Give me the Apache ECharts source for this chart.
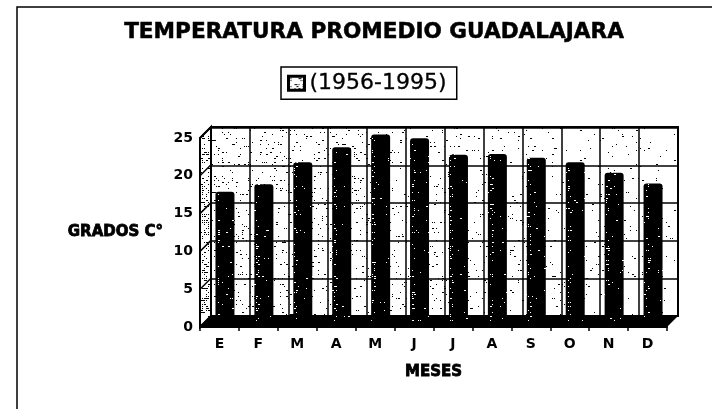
<!DOCTYPE html>
<html>
<head>
<meta charset="utf-8">
<style>
  html, body { margin: 0; padding: 0; background: #fff; }
  #chart { width: 712px; height: 409px; }
</style>
<script src="https://cdn.jsdelivr.net/npm/echarts@6/dist/echarts.min.js"></script>
</head>
<body>
<div id="chart"></div>
<script>
var meses = ["E", "F", "M", "A", "M", "J", "J", "A", "S", "O", "N", "D"];
var temperatura = [17.2, 18.2, 21.1, 23.1, 24.8, 24.3, 22.1, 22.2, 21.7, 21.1, 19.7, 18.3];
var yTicks = [0, 5, 10, 15, 20, 25];
var titulo = "TEMPERATURA PROMEDIO GUADALAJARA";
var serieNombre = "(1956-1995)";

var fontFamily = '"DejaVu Sans", sans-serif';
var depthX = 11;
var depthY = 11;

// scanned print grain, fixed seed so the picture is always the same
var seed = 12345;
function next() {
  seed = (seed * 1103 + 12345) % 65536;
  return seed / 65536;
}
function grain(bg, fg, density) {
  var c = document.createElement("canvas");
  c.width = 712;
  c.height = 409;
  var ctx = c.getContext("2d");
  ctx.fillStyle = bg;
  ctx.fillRect(0, 0, 712, 409);
  ctx.fillStyle = fg;
  for (var y = 0; y < 409; y += 2) {
    for (var x = 0; x < 712; x += 2) {
      if (next() < density(x, y)) {
        ctx.fillRect(x, y, next() < 0.3 ? 2 : 1, 1);
      }
    }
  }
  return { image: c, repeat: "no-repeat" };
}
var wallTexture = grain("#fff", "#000", function (x) {
  return 0.11 - 0.085 * (x - 211) / 467;
});
var sideTexture = grain("#fff", "#000", function () {
  return 0.42;
});
var barTexture = grain("#000", "#fff", function (x) {
  var p = ((x - 215) % 38.92 + 38.92) % 38.92;
  return p > 1 && p < 5 ? 0.2 : 0.02;
});
var legendTexture = grain("#fff", "#000", function () {
  return 0.4;
});

var chart = echarts.init(document.getElementById("chart"));

var option = {
  animation: false,
  backgroundColor: "#fff",
  textStyle: { fontFamily: fontFamily, color: "#000" },
  title: {
    text: titulo,
    left: 369,
    top: 16,
    textAlign: "center",
    textStyle: { fontFamily: fontFamily, fontSize: 21.6, fontWeight: "bold", color: "#000", textBorderColor: "#000", textBorderWidth: 0.5 }
  },
  legend: {
    left: 281,
    top: 67,
    padding: [5, 10, 5, 6],
    itemWidth: 16,
    itemHeight: 14,
    borderColor: "#000",
    borderWidth: 1.5,
    borderRadius: 0,
    textStyle: { fontFamily: fontFamily, fontSize: 22, color: "#000", textBorderColor: "#000", textBorderWidth: 0.3 },
    data: [
      {
        name: serieNombre,
        icon: "rect",
        itemStyle: { color: legendTexture, borderColor: "#000", borderWidth: 3 }
      }
    ]
  },
  graphic: [
    {
      type: "polyline",
      silent: true,
      shape: { points: [[712, 7], [17, 7], [17, 409]] },
      style: { stroke: "#000", lineWidth: 1.5, fill: null }
    }
  ],
  grid: [
    { left: 211, top: 128, width: 467, height: 188 },
    { left: 205.5, top: 133, width: 467, height: 188 },
    { left: 200, top: 138, width: 467, height: 189 }
  ],
  xAxis: [
    {
      gridIndex: 0, type: "category", data: meses, z: 1,
      axisLine: { show: false }, axisTick: { show: false }, axisLabel: { show: false },
      splitLine: { show: true, lineStyle: { color: "#000", width: 1.5 } }
    },
    { gridIndex: 1, type: "category", data: meses, show: false },
    {
      gridIndex: 2, type: "category", data: meses, z: 6,
      name: "MESES",
      nameLocation: "middle",
      nameGap: 38,
      nameTextStyle: { fontFamily: fontFamily, fontSize: 15, fontWeight: "bold", color: "#000", textBorderColor: "#000", textBorderWidth: 0.8 },
      axisLine: { show: true, onZero: false, lineStyle: { color: "#000", width: 2 } },
      axisTick: { show: true, length: 4, lineStyle: { color: "#000", width: 1.5 } },
      axisLabel: { color: "#000", fontSize: 14, fontWeight: "bold", margin: 10, interval: 0 },
      splitLine: { show: false }
    }
  ],
  yAxis: [
    {
      gridIndex: 0, type: "value", min: 0, max: 25, interval: 5, z: 1,
      axisLine: { show: false }, axisTick: { show: false }, axisLabel: { show: false },
      splitLine: { show: true, lineStyle: { color: "#000", width: 1.5 } }
    },
    { gridIndex: 1, type: "value", min: 0, max: 25, interval: 5, show: false },
    {
      gridIndex: 2, type: "value", min: 0, max: 25, interval: 5, z: 6,
      name: "GRADOS C°",
      nameLocation: "middle",
      nameRotate: 0,
      nameGap: 37,
      nameTextStyle: { fontFamily: fontFamily, fontSize: 15, fontWeight: "bold", color: "#000", align: "right", textBorderColor: "#000", textBorderWidth: 0.8 },
      axisLine: { show: true, lineStyle: { color: "#000", width: 2 } },
      axisTick: { show: false },
      axisLabel: { color: "#000", fontSize: 14, fontWeight: "bold", margin: 7 },
      splitLine: { show: false }
    }
  ],
  series: [
    {
      // back wall, side wall and its lines
      type: "custom",
      xAxisIndex: 2,
      yAxisIndex: 2,
      z: 0,
      silent: true,
      data: [0],
      renderItem: function (params, api) {
        var r = params.coordSys;
        var children = [
          {
            type: "rect",
            shape: { x: r.x + depthX, y: r.y - depthY, width: r.width, height: r.height },
            style: { fill: wallTexture, stroke: "#000", lineWidth: 2 }
          },
          {
            type: "polygon",
            shape: {
              points: [
                [r.x, r.y],
                [r.x + depthX, r.y - depthY],
                [r.x + depthX, r.y + r.height - depthY],
                [r.x, r.y + r.height]
              ]
            },
            style: { fill: sideTexture, stroke: "#000", lineWidth: 2 }
          }
        ];
        yTicks.forEach(function (t) {
          var y = api.coord([0, t])[1];
          children.push({
            type: "line",
            shape: { x1: r.x, y1: y, x2: r.x + depthX, y2: y - depthY },
            style: { stroke: "#000", lineWidth: 1.5 }
          });
        });
        return { type: "group", children: children };
      }
    },
    {
      // floor
      type: "custom",
      xAxisIndex: 2,
      yAxisIndex: 2,
      z: 2,
      silent: true,
      data: [0],
      renderItem: function (params) {
        var r = params.coordSys;
        var b = r.y + r.height;
        return {
          type: "polygon",
          shape: {
            points: [
              [r.x, b],
              [r.x + depthX, b - depthY],
              [r.x + r.width + depthX, b - depthY],
              [r.x + r.width, b]
            ]
          },
          style: { fill: "#000" }
        };
      }
    },
    {
      name: serieNombre,
      type: "bar",
      xAxisIndex: 1,
      yAxisIndex: 1,
      z: 5,
      data: temperatura,
      barWidth: 19,
      itemStyle: { color: barTexture, borderRadius: [3, 3, 0, 0] }
    }
  ]
};
chart.setOption(option);
</script>
</body>
</html>
